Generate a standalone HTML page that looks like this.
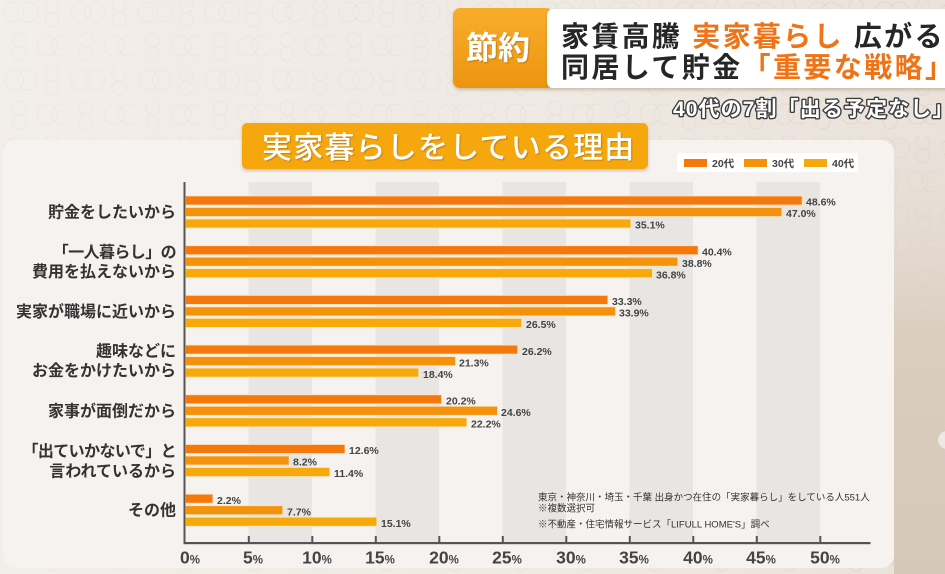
<!DOCTYPE html>
<html lang="ja">
<head>
<meta charset="utf-8">
<style>
  html,body{margin:0;padding:0;}
  body{width:945px;height:574px;overflow:hidden;background:#efe9e3;}
  svg{display:block;}
  text{font-family:"Liberation Sans","Noto Sans CJK JP",sans-serif;}
</style>
</head>
<body>
<svg width="945" height="574" viewBox="0 0 945 574" xmlns="http://www.w3.org/2000/svg">
  <defs>
    <pattern id="rings" x="0" y="0" width="67" height="68" patternUnits="userSpaceOnUse">
      <g fill="none" stroke="#dcd3cb" stroke-width="1.1">
        <circle cx="14" cy="12" r="10"/>
        <circle cx="28" cy="12" r="10"/>
        <circle cx="52" cy="6" r="7"/>
        <circle cx="52" cy="20" r="7"/>
        <circle cx="47" cy="46" r="10"/>
        <circle cx="61" cy="46" r="10"/>
        <circle cx="19" cy="40" r="7"/>
        <circle cx="19" cy="54" r="7"/>
      </g>
    </pattern>
    <linearGradient id="bgfade" x1="0" y1="0" x2="1" y2="0">
      <stop offset="0" stop-color="#f6f2ee" stop-opacity="0.7"/>
      <stop offset="0.6" stop-color="#f3eee9" stop-opacity="0.55"/>
      <stop offset="1" stop-color="#e8dfd6" stop-opacity="0.35"/>
    </linearGradient>
    <linearGradient id="rightfade" x1="0" y1="0" x2="0" y2="1">
      <stop offset="0" stop-color="#e6ddd3" stop-opacity="0.2"/>
      <stop offset="0.45" stop-color="#dacdbf" stop-opacity="1"/>
      <stop offset="1" stop-color="#d6c8b9" stop-opacity="1"/>
    </linearGradient>
    <linearGradient id="orangebox" x1="0" y1="0" x2="0" y2="1">
      <stop offset="0" stop-color="#f8ad2c"/>
      <stop offset="1" stop-color="#ec950f"/>
    </linearGradient>
    <filter id="sh" x="-5%" y="-20%" width="110%" height="150%">
      <feDropShadow dx="0" dy="2" stdDeviation="1.5" flood-color="#8a6a40" flood-opacity="0.35"/>
    </filter>
    <filter id="tsh" x="-5%" y="-20%" width="110%" height="150%">
      <feDropShadow dx="1" dy="1" stdDeviation="0.6" flood-color="#a0600a" flood-opacity="0.6"/>
    </filter>
  </defs>

  <!-- background -->
  <rect x="0" y="0" width="945" height="574" fill="#ebe4dd"/>
  <rect x="0" y="0" width="945" height="574" fill="url(#rings)"/>
  <rect x="0" y="0" width="945" height="574" fill="url(#bgfade)"/>
  <rect x="894" y="140" width="51" height="434" fill="url(#rightfade)"/>
  <circle cx="947" cy="440" r="9" fill="#ece8e4"/>

  <!-- header -->
  <rect x="453" y="8" width="100" height="80" rx="7" fill="url(#orangebox)" filter="url(#sh)"/>
  <text x="498" y="59" font-size="32" font-weight="bold" fill="#ffffff" text-anchor="middle" filter="url(#tsh)">節約</text>
  <rect x="547" y="9" width="410" height="79" rx="6" fill="#ffffff" filter="url(#sh)"/>
  <text x="561" y="46" font-size="28" font-weight="bold" fill="#262626" letter-spacing="2.3"><tspan>家賃高騰 </tspan><tspan fill="#ef7418">実家暮らし</tspan><tspan> 広がる</tspan></text>
  <text x="561" y="77" font-size="28" font-weight="bold" fill="#262626" letter-spacing="2.4"><tspan>同居して貯金</tspan><tspan fill="#ef7418">「重要な戦略」</tspan></text>
  <text x="673" y="116" font-size="21" font-weight="bold" fill="#ffffff" stroke="#3e3e3e" stroke-width="2.8" paint-order="stroke" stroke-linejoin="round" letter-spacing="1.1">40代の7割「出る予定なし」</text>

  <!-- chart panel -->
  <rect x="3" y="140" width="891" height="428" rx="13" fill="#f6f2ef"/>

  <!-- title box -->
  <rect x="242" y="123" width="406" height="46" rx="5" fill="#f5a70d" filter="url(#sh)"/>
  <text x="262" y="158" font-size="30" font-weight="500" fill="#ffffff" letter-spacing="1.2" filter="url(#tsh)">実家暮らしをしている理由</text>

  <!-- legend -->
  <rect x="677" y="153" width="181" height="19" fill="#ffffff"/>
  <rect x="684" y="159" width="23" height="8" fill="#f5780c"/>
  <text x="712" y="167" font-size="10.5" font-weight="bold" fill="#444">20代</text>
  <rect x="744" y="159" width="23" height="8" fill="#f5920c"/>
  <text x="772" y="167" font-size="10.5" font-weight="bold" fill="#444">30代</text>
  <rect x="804" y="159" width="23" height="8" fill="#f7a90c"/>
  <text x="832" y="167" font-size="10.5" font-weight="bold" fill="#444">40代</text>

  <!-- gray bands -->
  <g fill="#e9e5e2">
    <rect x="248.5" y="182" width="63.5" height="360"/>
    <rect x="375.5" y="182" width="63.5" height="360"/>
    <rect x="502.5" y="182" width="63.5" height="360"/>
    <rect x="629.5" y="182" width="63.5" height="360"/>
    <rect x="756.5" y="182" width="63.5" height="360"/>
  </g>

  <!-- bars -->
  <g stroke="#fde3b8" stroke-width="0.8">
    <rect x="185.5" y="196" width="616.7" height="9" fill="#f5780c"/>
    <rect x="185.5" y="207.5" width="596.4" height="9" fill="#f5920c"/>
    <rect x="185.5" y="219" width="445.3" height="9" fill="#f7a90c"/>
    <rect x="185.5" y="245.7" width="512.6" height="9" fill="#f5780c"/>
    <rect x="185.5" y="257.2" width="492.3" height="9" fill="#f5920c"/>
    <rect x="185.5" y="268.7" width="466.9" height="9" fill="#f7a90c"/>
    <rect x="185.5" y="295.4" width="422.4" height="9" fill="#f5780c"/>
    <rect x="185.5" y="306.9" width="430.0" height="9" fill="#f5920c"/>
    <rect x="185.5" y="318.4" width="336.1" height="9" fill="#f7a90c"/>
    <rect x="185.5" y="345.1" width="332.2" height="9" fill="#f5780c"/>
    <rect x="185.5" y="356.6" width="270.0" height="9" fill="#f5920c"/>
    <rect x="185.5" y="368.1" width="233.2" height="9" fill="#f7a90c"/>
    <rect x="185.5" y="394.8" width="256.0" height="9" fill="#f5780c"/>
    <rect x="185.5" y="406.3" width="311.9" height="9" fill="#f5920c"/>
    <rect x="185.5" y="417.8" width="281.4" height="9" fill="#f7a90c"/>
    <rect x="185.5" y="444.5" width="159.5" height="9" fill="#f5780c"/>
    <rect x="185.5" y="456" width="103.6" height="9" fill="#f5920c"/>
    <rect x="185.5" y="467.5" width="144.3" height="9" fill="#f7a90c"/>
    <rect x="185.5" y="494.2" width="27.4" height="9" fill="#f5780c"/>
    <rect x="185.5" y="505.7" width="97.3" height="9" fill="#f5920c"/>
    <rect x="185.5" y="517.2" width="191.3" height="9" fill="#f7a90c"/>
  </g>

  <!-- value labels -->
  <g font-size="10.5" font-weight="bold" fill="#444">
    <text x="806" y="205.7">48.6%</text>
    <text x="786" y="217.2">47.0%</text>
    <text x="635" y="228.7">35.1%</text>

    <text x="702" y="255.4">40.4%</text>
    <text x="682" y="266.9">38.8%</text>
    <text x="656" y="278.4">36.8%</text>

    <text x="612" y="305.1">33.3%</text>
    <text x="619" y="316.6">33.9%</text>
    <text x="526" y="328.1">26.5%</text>

    <text x="522" y="354.8">26.2%</text>
    <text x="459" y="366.3">21.3%</text>
    <text x="423" y="377.8">18.4%</text>

    <text x="446" y="404.5">20.2%</text>
    <text x="501" y="416">24.6%</text>
    <text x="471" y="427.5">22.2%</text>

    <text x="349" y="454.2">12.6%</text>
    <text x="293" y="465.7">8.2%</text>
    <text x="334" y="477.2">11.4%</text>

    <text x="217" y="503.9">2.2%</text>
    <text x="287" y="515.4">7.7%</text>
    <text x="381" y="526.9">15.1%</text>
  </g>

  <!-- category labels -->
  <g font-size="16" font-weight="bold" fill="#333" text-anchor="end">
    <text x="176" y="217.5">貯金をしたいから</text>
    <text x="176" y="257.5" letter-spacing="-0.6">「一人暮らし」の</text>
    <text x="176" y="277">費用を払えないから</text>
    <text x="176" y="317">実家が職場に近いから</text>
    <text x="176" y="356.5">趣味などに</text>
    <text x="176" y="376">お金をかけたいから</text>
    <text x="176" y="416.3">家事が面倒だから</text>
    <text x="176" y="456.5" letter-spacing="-0.6">「出ていかないで」と</text>
    <text x="176" y="476.5">言われているから</text>
    <text x="176" y="515.7">その他</text>
  </g>

  <!-- footnote -->
  <g font-size="9.5" fill="#333">
    <text x="538" y="500.5">東京・神奈川・埼玉・千葉 出身かつ在住の「実家暮らし」をしている人551人</text>
    <text x="538" y="511.5">※複数選択可</text>
    <text x="538" y="527.5">※不動産・住宅情報サービス「LIFULL HOME'S」調べ</text>
  </g>

  <!-- axes -->
  <rect x="183.5" y="182" width="2" height="362" fill="#555"/>
  <rect x="183.5" y="542" width="687" height="2.2" fill="#555"/>
  <g fill="#555">
    <rect x="247.8" y="536" width="2" height="7"/>
    <rect x="311.3" y="536" width="2" height="7"/>
    <rect x="374.8" y="536" width="2" height="7"/>
    <rect x="438.3" y="536" width="2" height="7"/>
    <rect x="501.8" y="536" width="2" height="7"/>
    <rect x="565.3" y="536" width="2" height="7"/>
    <rect x="628.8" y="536" width="2" height="7"/>
    <rect x="692.3" y="536" width="2" height="7"/>
    <rect x="755.8" y="536" width="2" height="7"/>
    <rect x="819.3" y="536" width="2" height="7"/>
  </g>
  <g font-size="17.5" font-weight="bold" fill="#444" text-anchor="middle">
    <text x="190" y="563.5">0<tspan font-size="11.5">%</tspan></text>
    <text x="253" y="563.5">5<tspan font-size="11.5">%</tspan></text>
    <text x="317" y="563.5">10<tspan font-size="11.5">%</tspan></text>
    <text x="380" y="563.5">15<tspan font-size="11.5">%</tspan></text>
    <text x="444" y="563.5">20<tspan font-size="11.5">%</tspan></text>
    <text x="507" y="563.5">25<tspan font-size="11.5">%</tspan></text>
    <text x="571" y="563.5">30<tspan font-size="11.5">%</tspan></text>
    <text x="634" y="563.5">35<tspan font-size="11.5">%</tspan></text>
    <text x="698" y="563.5">40<tspan font-size="11.5">%</tspan></text>
    <text x="761" y="563.5">45<tspan font-size="11.5">%</tspan></text>
    <text x="825" y="563.5">50<tspan font-size="11.5">%</tspan></text>
  </g>
</svg>
</body>
</html>
